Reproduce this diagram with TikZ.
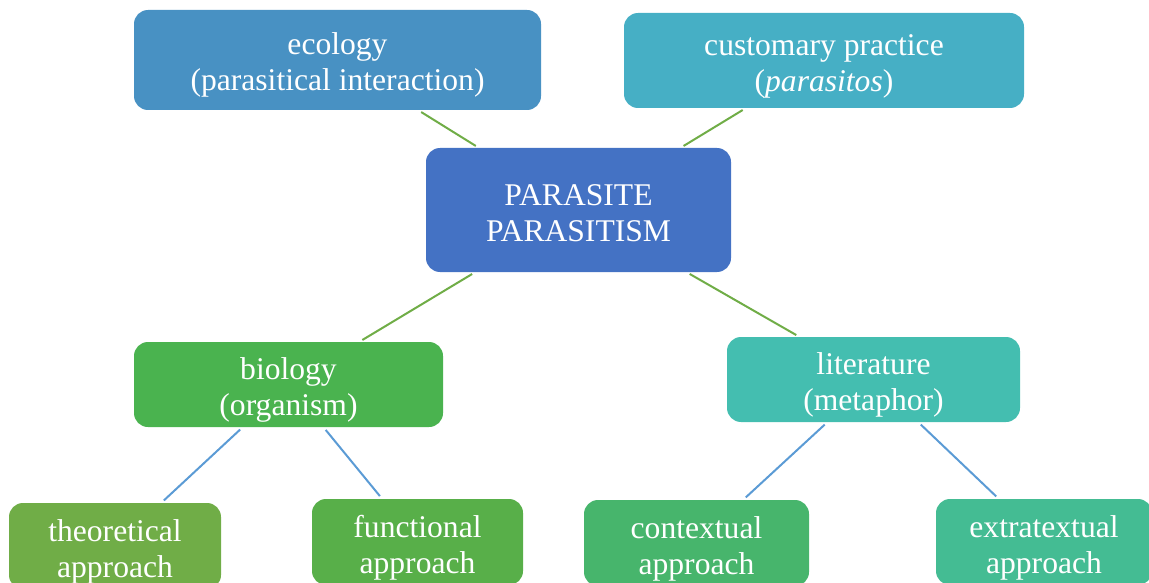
\documentclass[tikz,border=0pt]{standalone}
\usepackage{fontspec}
\setmainfont{Liberation Serif}
\definecolor{cEco}{HTML}{4891C3}
\definecolor{cCust}{HTML}{46AFC5}
\definecolor{cCen}{HTML}{4472C4}
\definecolor{cBio}{HTML}{4AB34F}
\definecolor{cLit}{HTML}{44BEB0}
\definecolor{cTheo}{HTML}{70AD47}
\definecolor{cFunc}{HTML}{58AF49}
\definecolor{cCont}{HTML}{47B56C}
\definecolor{cExtra}{HTML}{44BC93}
\definecolor{lineG}{HTML}{70AD47}
\definecolor{lineB}{HTML}{5B9BD5}
\newcommand\mytop{\rule{0pt}{37pt}}
\newcommand\mybot{\rule[-11pt]{0pt}{0pt}}
\tikzset{
  box/.style={rounded corners=14pt, text=white, align=center, inner sep=0pt,
    font=\fontsize{31.6}{36}\selectfont},
  glink/.style={draw=lineG, line width=2pt, shorten <=3.5pt, shorten >=3.5pt},
  blink/.style={draw=lineB, line width=2pt, shorten <=3.5pt, shorten >=3.5pt}
}
\begin{document}
\begin{tikzpicture}[x=1pt,y=1pt]
\clip (0,0) rectangle (1149,-583);
\useasboundingbox (0,0) rectangle (1149,-583);
\node[box, fill=cEco, minimum width=407, minimum height=100] (eco) at (337.5,-60) {\mytop ecology\\(parasitical interaction)\mybot};
\node[box, fill=cCust, minimum width=400, minimum height=95] (cust) at (824,-60.5) {\mytop customary practice\\(\textit{parasitos})\mybot};
\node[box, fill=cCen, minimum width=305, minimum height=124] (cen) at (578.5,-210) {\mytop PARASITE\\PARASITISM\mybot};
\node[box, fill=cBio, minimum width=309, minimum height=85] (bio) at (288.5,-384.5) {\mytop biology\\(organism)\mybot};
\node[box, fill=cLit, minimum width=293, minimum height=85] (lit) at (873.5,-379.5) {\mytop literature\\(metaphor)\mybot};
\node[box, fill=cTheo, minimum width=212, minimum height=86] (theo) at (115,-546) {\mytop theoretical\\approach\mybot};
\node[box, fill=cFunc, minimum width=211, minimum height=86] (func) at (417.5,-542) {\mytop functional\\approach\mybot};
\node[box, fill=cCont, minimum width=225, minimum height=86] (cont) at (696.5,-543) {\mytop contextual\\approach\mybot};
\node[box, fill=cExtra, minimum width=216, minimum height=86] (extra) at (1044,-542) {\mytop extratextual\\approach\mybot};
\draw[glink] (eco) -- (cen);
\draw[glink] (cust) -- (cen);
\draw[glink] (cen) -- (bio);
\draw[glink] (cen) -- (lit);
\draw[blink] (bio) -- (theo);
\draw[blink] (bio) -- (func);
\draw[blink] (lit) -- (cont);
\draw[blink] (lit) -- (extra);
\end{tikzpicture}
\end{document}
